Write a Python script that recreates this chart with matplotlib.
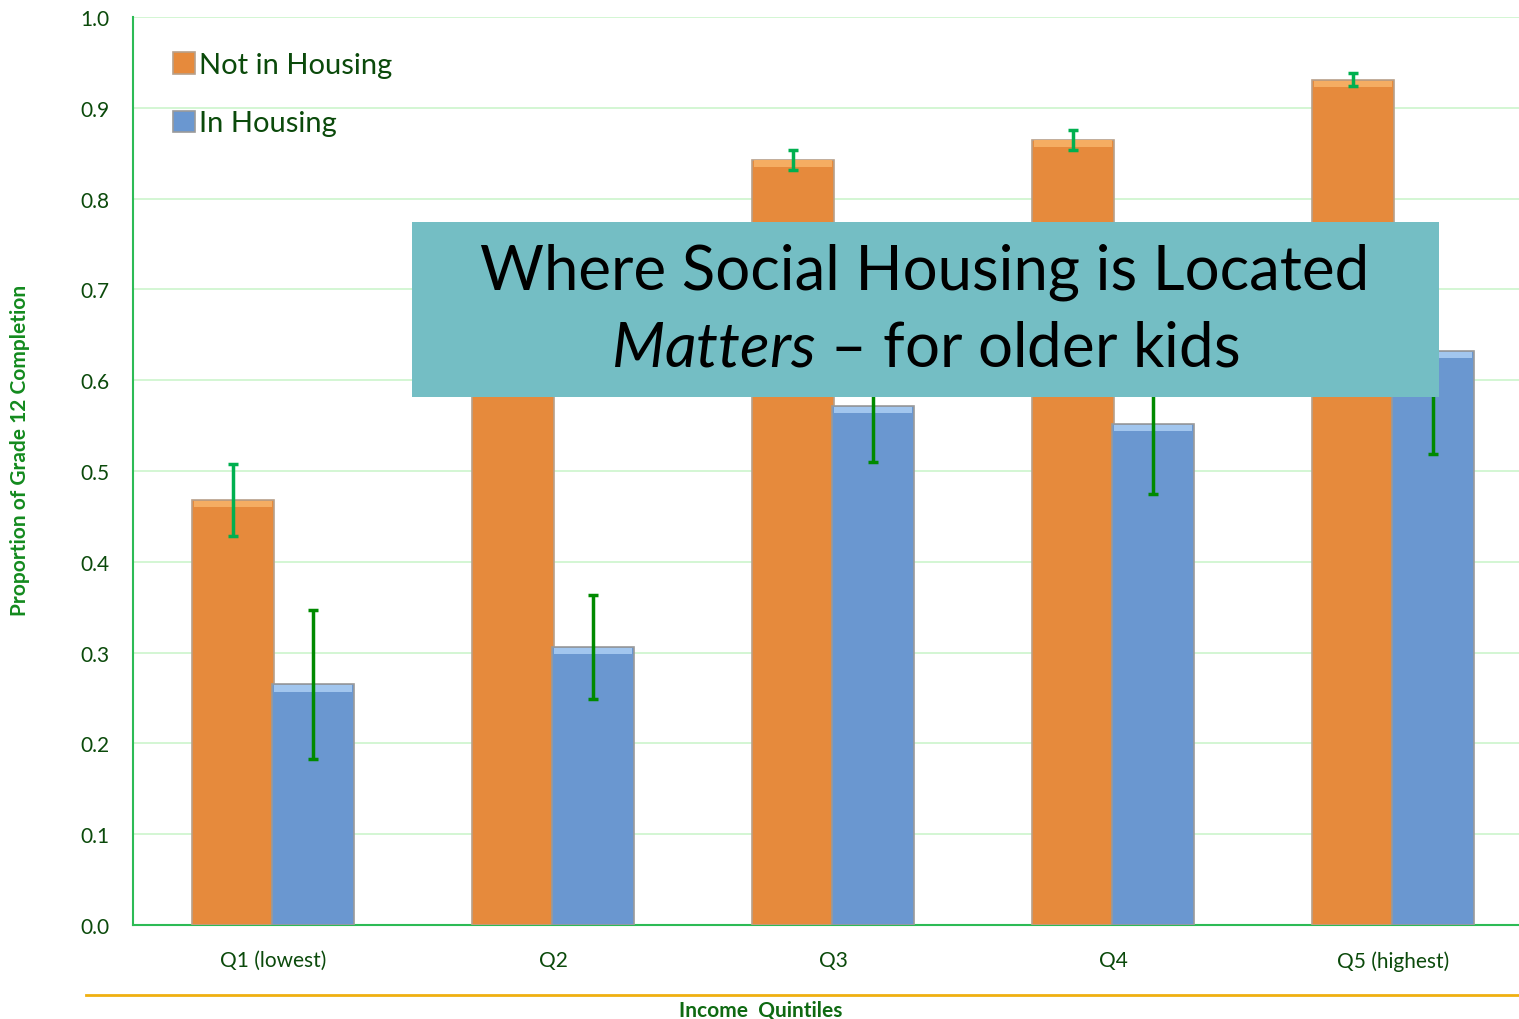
"""
Grade 12 completion by income quintile, in vs not in social housing.
"""

import matplotlib.pyplot as plt
import numpy as np

QUINTILES = ['Q1 (lowest)', 'Q2', 'Q3', 'Q4', 'Q5 (highest)']

NOT_IN_HOUSING = [0.468, 0.73, 0.843, 0.865, 0.931]
NOT_IN_ERR = [0.040, 0.020, 0.011, 0.011, 0.007]

IN_HOUSING = [0.265, 0.306, 0.572, 0.552, 0.632]
IN_ERR = [0.082, 0.057, 0.062, 0.077, 0.113]

ORANGE = '#e68a3c'
BLUE = '#6a97d0'
DARK_GREEN = '#0b4a0b'
TEXT_GREEN = '#138a1e'

plt.rcParams['font.family'] = ['Lato', 'DejaVu Sans']
plt.rcParams['mathtext.fontset'] = 'custom'
plt.rcParams['mathtext.it'] = 'Lato:italic'
plt.rcParams['mathtext.rm'] = 'Lato'

fig = plt.figure(figsize=(15.19, 10.2), dpi=100)
ax = fig.add_axes([133 / 1519, 94 / 1020, 1 - 133 / 1519, (926 - 18) / 1020])

x = np.arange(len(QUINTILES))
w = 0.29
off = 0.143

ax.bar(x - off, NOT_IN_HOUSING, w, color=ORANGE, edgecolor='#b8a08a',
       linewidth=1.2, zorder=3, label='Not in Housing')
ax.bar(x + off, IN_HOUSING, w, color=BLUE, edgecolor='#9a9a9a',
       linewidth=1.2, zorder=3, label='In Housing')
# light bevel on bar tops
ax.bar(x - off, [0.007] * 5, w * 0.96, bottom=np.array(NOT_IN_HOUSING) - 0.008,
       color='#f5ad62', zorder=4, linewidth=0)
ax.bar(x + off, [0.007] * 5, w * 0.96, bottom=np.array(IN_HOUSING) - 0.008,
       color='#a2c6ee', zorder=4, linewidth=0)

ax.errorbar(x - off, NOT_IN_HOUSING, yerr=NOT_IN_ERR, fmt='none', ecolor='#00b050',
            elinewidth=2.5, capsize=3.5, capthick=2.5, zorder=5)
ax.errorbar(x + off, IN_HOUSING, yerr=IN_ERR, fmt='none', ecolor='#008a00',
            elinewidth=2.5, capsize=3.5, capthick=2.5, zorder=5)

ax.set_xlim(-0.5, -0.5 + (1519 - 133) / 280)
ax.set_ylim(0, 1.0)
ax.set_yticks(np.arange(0, 1.01, 0.1))
ax.set_yticklabels([f'{v:.1f}' for v in np.arange(0, 1.01, 0.1)])
ax.set_xticks(x)
ax.set_xticklabels(QUINTILES)
ax.tick_params(axis='both', length=0, labelsize=15, labelcolor=DARK_GREEN)
ax.tick_params(axis='x', pad=18)
ax.tick_params(axis='y', pad=17)
ax.grid(axis='y', color='#ccf5cc', linewidth=1.2, zorder=0)
for s in ['top', 'right']:
    ax.spines[s].set_visible(False)
ax.spines['left'].set_color('#2dbb55')
ax.spines['bottom'].set_color('#2dbb55')
ax.spines['left'].set_linewidth(1.5)
ax.spines['bottom'].set_linewidth(1.5)

ax.set_ylabel('Proportion of Grade 12 Completion', fontsize=15, fontweight='bold',
              color=TEXT_GREEN)
ax.yaxis.set_label_coords(-0.074, 0.524)

ax.legend(loc='upper left', bbox_to_anchor=(0.01, 0.99), frameon=False,
          fontsize=21, labelcolor=DARK_GREEN, handlelength=0.75, handleheight=0.75,
          labelspacing=1.1, handletextpad=0.15)

# gold rule and x-axis title
fig.add_artist(plt.Line2D([86 / 1519, 1], [24 / 1020, 24 / 1020], color='#f0b010',
                          linewidth=2, transform=fig.transFigure))
fig.text(761 / 1519, 9 / 1020, 'Income  Quintiles', ha='center', va='center',
         fontsize=15, fontweight='bold', color='#0f6a12')

# overlay callout box
fig.patches.append(plt.Rectangle((412 / 1519, 1 - 398 / 1020), (1439 - 412) / 1519,
                                 (398 - 223) / 1020, transform=fig.transFigure,
                                 facecolor='#74bec4', edgecolor='none', zorder=10))
fig.text(925 / 1519, 1 - 272 / 1020, 'Where Social Housing is Located',
         ha='center', va='center', fontsize=44.5, color='black', zorder=11)
fig.text(925 / 1519, 1 - 349 / 1020, r'$\it{Matters}$ – for older kids',
         ha='center', va='center', fontsize=44.5, color='black', zorder=11)

plt.savefig('out.png', dpi=100)
plt.close()
